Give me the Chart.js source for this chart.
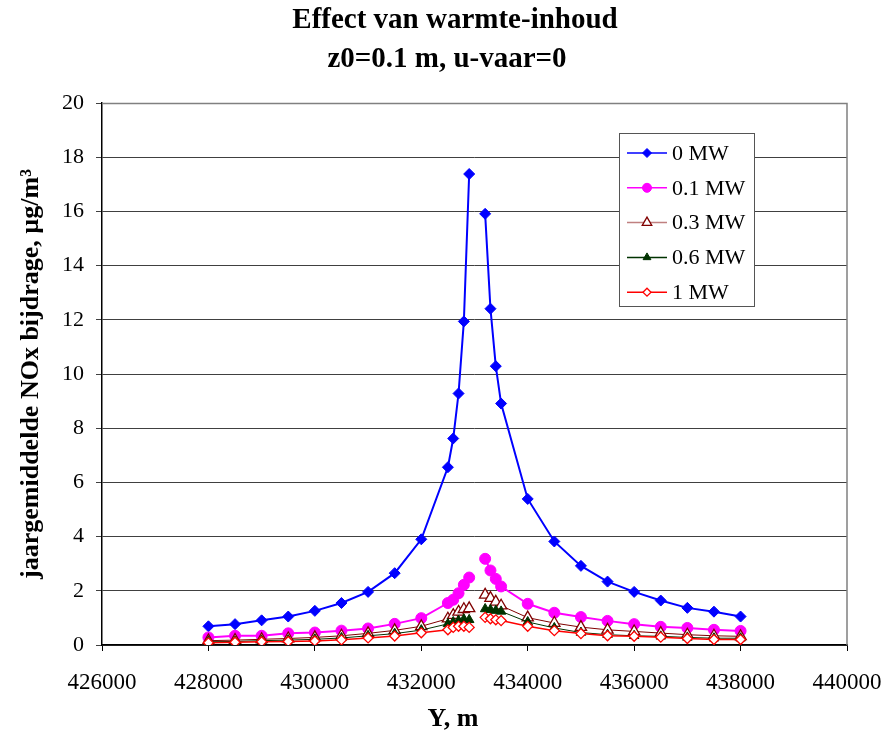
<!DOCTYPE html>
<html>
<head>
<meta charset="utf-8">
<script src="https://cdn.jsdelivr.net/npm/chart.js@4.4.1/dist/chart.umd.min.js"></script>
<style>
  html, body { margin: 0; padding: 0; background: #fff; }
  #wrap { width: 882px; height: 738px; }
</style>
</head>
<body>
<div id="wrap"><canvas id="chart" width="882" height="738"></canvas></div>
<script>
// Y positions (m); 433000 left empty, the lines break there
var yPos = [428000, 428500, 429000, 429500, 430000, 430500, 431000, 431500, 432000,
            432500, 432600, 432700, 432800, 432900, 433000,
            433200, 433300, 433400, 433500,
            434000, 434500, 435000, 435500, 436000, 436500, 437000, 437500, 438000];

var mw0 = [0.69, 0.77, 0.91, 1.05, 1.26, 1.55, 1.96, 2.65, 3.90,
           6.56, 7.62, 9.28, 11.94, 17.38, null,
           15.91, 12.41, 10.29, 8.91,
           5.39, 3.82, 2.92, 2.34, 1.96, 1.64, 1.37, 1.23, 1.05];
var mw01 = [0.28, 0.34, 0.34, 0.43, 0.46, 0.53, 0.61, 0.78, 0.99,
            1.55, 1.67, 1.91, 2.22, 2.49, null,
            3.18, 2.75, 2.44, 2.16,
            1.52, 1.19, 1.03, 0.89, 0.77, 0.67, 0.63, 0.56, 0.52];
var mw03 = [0.16, 0.18, 0.21, 0.24, 0.28, 0.34, 0.43, 0.54, 0.69,
            0.97, 1.10, 1.22, 1.32, 1.35, null,
            1.85, 1.73, 1.59, 1.45,
            1.01, 0.81, 0.66, 0.56, 0.50, 0.44, 0.38, 0.34, 0.32];
var mw06 = [0.12, 0.13, 0.16, 0.18, 0.21, 0.26, 0.34, 0.42, 0.55,
            0.78, 0.85, 0.90, 0.95, 0.93, null,
            1.33, 1.30, 1.27, 1.24,
            0.85, 0.63, 0.46, 0.38, 0.34, 0.32, 0.28, 0.25, 0.25];
var mw1 = [0.08, 0.10, 0.12, 0.13, 0.15, 0.19, 0.26, 0.33, 0.45,
           0.56, 0.65, 0.69, 0.69, 0.65, null,
           1.02, 0.97, 0.93, 0.90,
           0.69, 0.53, 0.42, 0.34, 0.32, 0.29, 0.24, 0.20, 0.20];

var seriesNames = ['0 MW', '0.1 MW', '0.3 MW', '0.6 MW', '1 MW'];
var titleLines = ['Effect van warmte-inhoud', 'z0=0.1 m, u-vaar=0'];
var xTitle = 'Y, m';
var yTitle = 'jaargemiddelde NOx bijdrage, µg/m³';

var serif = "'Liberation Serif', 'Times New Roman', serif";

function pts(vals) {
    return yPos.map(function (x, i) { return { x: x, y: vals[i] }; });
}

var styles = [
    { line: '#0000ff', bg: '#0000ff', border: '#0000ff', style: 'rectRot', r: 5.5, lw: 2, bw: 1 },
    { line: '#ff00ff', bg: '#ff00ff', border: '#ff00ff', style: 'circle', r: 5.5, lw: 2, bw: 1 },
    { line: '#800000', bg: '#ffffff', border: '#800000', style: 'triangle', r: 6.5, lw: 1, bw: 1.3 },
    { line: '#003300', bg: '#003300', border: '#003300', style: 'triangle', r: 5.5, lw: 1, bw: 1 },
    { line: '#ff0000', bg: '#ffffff', border: '#ff0000', style: 'rectRot', r: 5, lw: 1.5, bw: 1.3 }
];
var legendLine = ['#0000ff', '#ff00ff', '#c08080', '#003300', '#ff0000'];

var datasets = [mw0, mw01, mw03, mw06, mw1].map(function (vals, i) {
    var s = styles[i];
    return {
        label: seriesNames[i],
        data: pts(vals),
        borderColor: s.line,
        borderWidth: s.lw,
        backgroundColor: s.bg,
        pointBackgroundColor: s.bg,
        pointBorderColor: s.border,
        pointBorderWidth: s.bw,
        pointStyle: s.style,
        pointRadius: s.r,
        tension: 0,
        spanGaps: false,
        order: 5 - i
    };
});

// gray frame round the plot area
var framePlugin = {
    id: 'frame',
    beforeDatasetsDraw: function (chart) {
        var a = chart.chartArea, ctx = chart.ctx;
        ctx.save();
        ctx.strokeStyle = '#808080';
        ctx.lineWidth = 1.5;
        ctx.beginPath();
        ctx.moveTo(a.left, a.top + 0.5);
        ctx.lineTo(a.right, a.top + 0.5);
        ctx.lineTo(a.right, a.bottom);
        ctx.stroke();
        ctx.restore();
    }
};

// chart title and x title, centred a bit left of the plot like the original
var titlesPlugin = {
    id: 'titles',
    afterDraw: function (chart) {
        var ctx = chart.ctx;
        ctx.save();
        ctx.fillStyle = '#000';
        ctx.textAlign = 'center';
        ctx.textBaseline = 'middle';
        ctx.font = 'bold 29px ' + serif;
        ctx.fillText(titleLines[0], 455, 21);
        ctx.fillText(titleLines[1], 447, 60);
        ctx.font = 'bold 26px ' + serif;
        ctx.fillText(xTitle, 453, 719);
        ctx.restore();
    }
};

// boxed legend inside the plot, like the spreadsheet one
var boxLegend = {
    id: 'boxLegend',
    afterDraw: function (chart) {
        var ctx = chart.ctx;
        var bx = 619, by = 133, bw = 135, bh = 173, step = 34.8;
        ctx.save();
        ctx.fillStyle = '#fff';
        ctx.fillRect(bx, by, bw, bh);
        ctx.strokeStyle = '#555';
        ctx.lineWidth = 1;
        ctx.strokeRect(bx + 0.5, by + 0.5, bw, bh);
        ctx.font = '22px ' + serif;
        ctx.textBaseline = 'middle';
        chart.data.datasets.forEach(function (ds, i) {
            var s = styles[i];
            var y = by + 20 + i * step;
            ctx.strokeStyle = legendLine[i];
            ctx.lineWidth = 1.5;
            ctx.beginPath();
            ctx.moveTo(bx + 8, y);
            ctx.lineTo(bx + 48, y);
            ctx.stroke();
            ctx.fillStyle = s.bg;
            ctx.strokeStyle = s.border;
            ctx.lineWidth = s.bw;
            Chart.helpers.drawPoint(ctx, { pointStyle: s.style, radius: s.r - 1, borderWidth: s.bw, rotation: 0 }, bx + 28, y);
            ctx.fillStyle = '#000';
            ctx.fillText(ds.label, bx + 53, y + 1);
        });
        ctx.restore();
    }
};

new Chart(document.getElementById('chart').getContext('2d'), {
    type: 'line',
    data: { datasets: datasets },
    options: {
        responsive: false,
        animation: false,
        events: [],
        layout: { padding: { left: 0, right: 35, top: 103, bottom: 0 } },
        plugins: {
            legend: { display: false },
            tooltip: { enabled: false },
            title: { display: false }
        },
        scales: {
            x: {
                type: 'linear',
                min: 426000,
                max: 440000,
                afterFit: function (scale) {
                    scale.height = 93;
                    scale.paddingLeft = 0;
                    scale.paddingRight = 0;
                },
                ticks: {
                    stepSize: 2000,
                    color: '#000',
                    padding: 18,
                    maxRotation: 0,
                    font: { family: serif, size: 23 },
                    callback: function (v) { return String(v); }
                },
                grid: { drawOnChartArea: false, drawTicks: true, tickLength: 6, color: '#000' },
                border: { color: '#000', width: 1.5 },
                title: { display: false }
            },
            y: {
                min: 0,
                max: 20,
                afterFit: function (scale) {
                    scale.width = 102;
                    scale.paddingTop = 0;
                    scale.paddingBottom = 0;
                },
                ticks: {
                    stepSize: 2,
                    color: '#000',
                    padding: 12,
                    font: { family: serif, size: 22 }
                },
                grid: { color: '#404040', lineWidth: 1, drawTicks: true, tickLength: 6 },
                border: { color: '#000', width: 1.5 },
                title: {
                    display: true,
                    text: yTitle,
                    color: '#000',
                    font: { family: serif, size: 26, weight: 'bold', lineHeight: 1.2 },
                    padding: { top: 16, bottom: 0 }
                }
            }
        }
    },
    plugins: [framePlugin, titlesPlugin, boxLegend]
});
</script>
</body>
</html>
